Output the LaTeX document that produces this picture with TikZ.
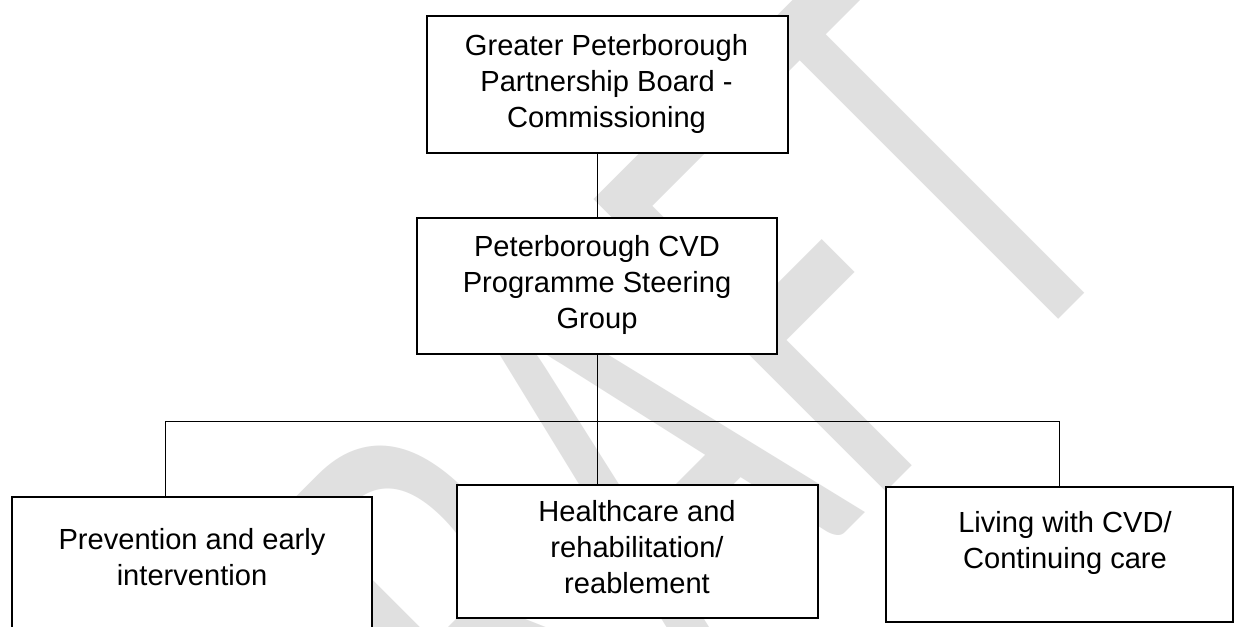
\documentclass[tikz,border=0pt]{standalone}
\usepackage{graphicx}
\usepackage{fontspec}
\setmainfont{Liberation Sans}
\newfontfamily\wmfont{Carlito}[Kerning=Off]

\tikzset{
  orgbox/.style={draw=black, line width=1pt, fill=white, inner sep=0pt},
  boxtext/.style={anchor=north, align=center, inner sep=0pt, font=\fontsize{14.55pt}{18pt}\selectfont},
  link/.style={line width=0.5pt},
  watermark/.style={anchor=base west, rotate=45, inner sep=0pt, text=black!12,
    font=\wmfont\fontsize{206.5pt}{206.5pt}\selectfont}
}

\begin{document}
\begin{tikzpicture}[x=0.5pt, y=-0.5pt]
	%%%%% FRAME %%%%%
	\useasboundingbox (0,0) rectangle (1235,626);
	\clip (0,0) rectangle (1235,626);
	\fill[white] (0,0) rectangle (1235,626);
	
	%%%%% WATERMARK %%%%%
	\node[watermark] (draft) at (359,1019) {\scalebox{1}[1.56]{DRAFT}};
	
	%%%%% BOXES %%%%%
	\node[orgbox, minimum width=180.5pt, minimum height=68.5pt] (board) at (607.5,84.5) {};
	\node[orgbox, minimum width=180pt, minimum height=68pt] (steer) at (597,286) {};
	\node[orgbox, minimum width=180pt, minimum height=70pt] (prev) at (192,567) {};
	\node[orgbox, minimum width=180.5pt, minimum height=66.5pt] (health) at (637.5,551.5) {};
	\node[orgbox, minimum width=173.5pt, minimum height=67.5pt] (living) at (1059.5,554.5) {};
	
	\node[boxtext] (boardtxt) at (606.5,34) {Greater Peterborough\\Partnership Board -\\Commissioning};
	\node[boxtext] (steertxt) at (597,235) {Peterborough CVD\\Programme Steering\\Group};
	\node[boxtext] (prevtxt) at (192,528) {Prevention and early\\intervention};
	\node[boxtext] (healthtxt) at (637,500.5) {Healthcare and\\rehabilitation/\\reablement};
	\node[boxtext] (livingtxt) at (1065,511.5) {Living with CVD/\\Continuing care};
	
	%%%%% LINKS %%%%%
	\coordinate (busleft) at (165,421);
	\coordinate (busright) at (1059,421);
	\draw[link] (steer.north) -- (steer.north |- board.south);
	\draw[link] (steer.south) -- (steer.south |- health.north);
	\draw[link] (busleft |- prev.north) -- (busleft) -- (busright) -- (busright |- living.north);
\end{tikzpicture}
\end{document}
